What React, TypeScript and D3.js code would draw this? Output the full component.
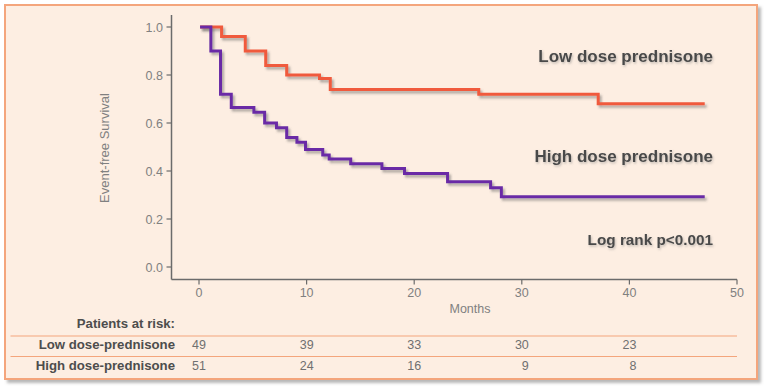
import React from 'react';
import * as d3 from 'd3';

// Kaplan-Meier step data (month, event-free survival)
const lowDoseMonths = [0.1, 2.1, 4.3, 6.2, 8.15, 11.2, 12.2, 26, 37.1, 47];
const lowDoseSurv = [1, 0.96, 0.9, 0.84, 0.8, 0.785, 0.74, 0.72, 0.68, 0.68];

const highDoseMonths = [0.1, 1.1, 2.0, 3.0, 5.1, 6.1, 7.2, 8.15, 9.1, 9.9, 11.5, 12.1, 14.1, 17.0, 19.1, 23.1, 27.1, 28.1, 47];
const highDoseSurv = [1, 0.9, 0.72, 0.665, 0.645, 0.6, 0.58, 0.54, 0.52, 0.49, 0.467, 0.45, 0.43, 0.41, 0.39, 0.355, 0.33, 0.293, 0.293];

const xTicks = [0, 10, 20, 30, 40, 50];
const yTicks = [0, 0.2, 0.4, 0.6, 0.8, 1.0];

const riskMonths = [0, 10, 20, 30, 40];
const riskLow = [49, 39, 33, 30, 23];
const riskHigh = [51, 24, 16, 9, 8];

const FONT = '"Liberation Sans", Arial, sans-serif';

export default function App() {
  const x = d3.scaleLinear().domain([0, 50]).range([199, 737]);
  const y = d3.scaleLinear().domain([0, 1]).range([267, 27]);

  const line = d3
    .line<[number, number]>()
    .x(d => x(d[0]))
    .y(d => y(d[1]))
    .curve(d3.curveStepAfter);

  const lowPts = lowDoseMonths.map((m, i) => [m, lowDoseSurv[i]] as [number, number]);
  const highPts = highDoseMonths.map((m, i) => [m, highDoseSurv[i]] as [number, number]);

  const axisX = 171.5;
  const axisY = 279.5;

  return (
    <svg width={764} height={387} style={{ position: 'absolute', left: 0, top: 0 }} fontFamily={FONT}>
      <defs>
        <filter id="frameShadow" x="-5%" y="-5%" width="110%" height="115%">
          <feDropShadow dx="3" dy="3" stdDeviation="1.5" floodColor="#888" floodOpacity="0.6" />
        </filter>
        <filter id="lineShadow" x="-5%" y="-10%" width="110%" height="130%">
          <feDropShadow dx="2" dy="2.5" stdDeviation="1.2" floodColor="#555" floodOpacity="0.45" />
        </filter>
        <filter id="textShadow" x="-5%" y="-20%" width="110%" height="150%">
          <feDropShadow dx="1" dy="1.5" stdDeviation="0.8" floodColor="#777" floodOpacity="0.45" />
        </filter>
      </defs>

      {/* frame */}
      <rect x={5} y={5} width={752} height={374} fill="#fdeee2" stroke="#f4a57c" strokeWidth={2} filter="url(#frameShadow)" />

      {/* axes */}
      <line x1={axisX} x2={axisX} y1={15} y2={axisY} stroke="#6b6b6b" strokeWidth={1.5} />
      <line x1={axisX} x2={737} y1={axisY} y2={axisY} stroke="#6b6b6b" strokeWidth={1.5} />

      {yTicks.map(t => (
        <g key={'y' + t}>
          <line x1={axisX - 5} x2={axisX} y1={y(t)} y2={y(t)} stroke="#6b6b6b" strokeWidth={1.2} />
          <text x={163} y={y(t) + 4.5} textAnchor="end" fontSize={12.5} fill="#808080">
            {d3.format('.1f')(t)}
          </text>
        </g>
      ))}

      {xTicks.map(t => (
        <g key={'x' + t}>
          <line x1={x(t)} x2={x(t)} y1={axisY} y2={axisY + 5} stroke="#6b6b6b" strokeWidth={1.2} />
          <text x={x(t)} y={297} textAnchor="middle" fontSize={12.5} fill="#808080">
            {t}
          </text>
        </g>
      ))}

      <text x={470} y={313} textAnchor="middle" fontSize={12.5} fill="#808080">Months</text>
      <text transform="translate(109,148) rotate(-90)" textAnchor="middle" fontSize={13} fill="#808080">
        Event-free Survival
      </text>

      {/* curves */}
      <path d={line(lowPts) || ''} fill="none" stroke="#f05a3c" strokeWidth={3} filter="url(#lineShadow)" />
      <path d={line(highPts) || ''} fill="none" stroke="#6a2ca6" strokeWidth={3} filter="url(#lineShadow)" />

      {/* annotations */}
      <g fontWeight="bold" fill="#4a4a4a" textAnchor="end" filter="url(#textShadow)">
        <text x={713} y={61.5} fontSize={17}>Low dose prednisone</text>
        <text x={713} y={162} fontSize={17}>High dose prednisone</text>
        <text x={713} y={245} fontSize={15.3}>Log rank p&lt;0.001</text>
      </g>

      {/* patients at risk */}
      <g fontWeight="bold" fill="#4d4d4d" textAnchor="end" fontSize={13.2}>
        <text x={175} y={328}>Patients at risk:</text>
        <text x={175} y={349}>Low dose-prednisone</text>
        <text x={175} y={370}>High dose-prednisone</text>
      </g>
      <line x1={10.5} x2={737} y1={336} y2={336} stroke="#f4a57c" strokeWidth={1} />
      <line x1={10.5} x2={737} y1={356.5} y2={356.5} stroke="#f4a57c" strokeWidth={1} />

      <g fill="#707070" fontSize={12.5} textAnchor="end">
        {riskMonths.map((m, i) => (
          <text key={'l' + m} x={x(m) + 7} y={349}>{riskLow[i]}</text>
        ))}
        {riskMonths.map((m, i) => (
          <text key={'h' + m} x={x(m) + 7} y={370}>{riskHigh[i]}</text>
        ))}
      </g>
    </svg>
  );
}
